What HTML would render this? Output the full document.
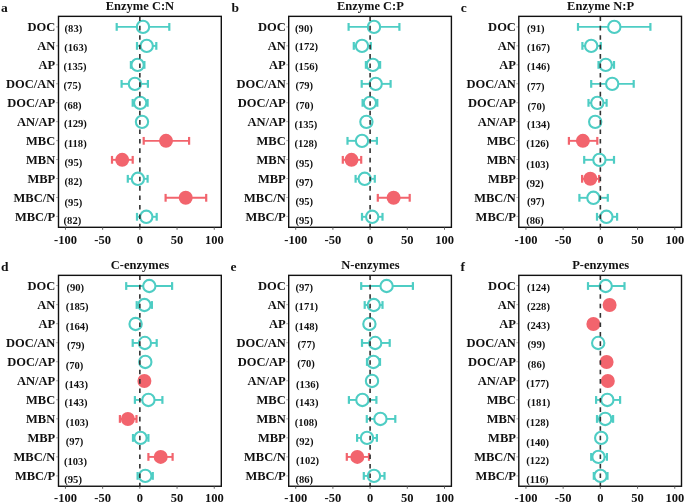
<!DOCTYPE html>
<html><head><meta charset="utf-8"><style>
html,body{margin:0;padding:0;background:#fff;}
body{width:685px;height:504px;overflow:hidden;}
svg{display:block;will-change:transform;}
text{font-family:"Liberation Serif", serif;font-weight:bold;fill:#111;}
.lt{font-size:13.5px;}
.tt{font-size:12.5px;}
.lb{font-size:12.5px;}
.nm{font-size:10.6px;}
.tk{font-size:12.5px;}
.ytk{stroke:#999;stroke-width:0.8;}
.xtk{stroke:#555;stroke-width:0.9;}
.dz{stroke:#333;stroke-width:1.6;stroke-dasharray:4.6 4.83;}
.bx{fill:none;stroke:#111;stroke-width:1.4;}
</style></head><body>
<svg width="685" height="504" viewBox="0 0 685 504">
<text x="0.9" y="12" class="lt">a</text>
<text x="139.9" y="9.7" class="tt" text-anchor="middle">Enzyme C:N</text>
<text x="55.2" y="31.4" class="lb" text-anchor="end">DOC</text>
<line x1="56" x2="58.5" y1="26.9" y2="26.9" class="ytk"/>
<text x="55.2" y="50.35" class="lb" text-anchor="end">AN</text>
<line x1="56" x2="58.5" y1="45.85" y2="45.85" class="ytk"/>
<text x="55.2" y="69.3" class="lb" text-anchor="end">AP</text>
<line x1="56" x2="58.5" y1="64.8" y2="64.8" class="ytk"/>
<text x="55.2" y="88.25" class="lb" text-anchor="end">DOC/AN</text>
<line x1="56" x2="58.5" y1="83.75" y2="83.75" class="ytk"/>
<text x="55.2" y="107.2" class="lb" text-anchor="end">DOC/AP</text>
<line x1="56" x2="58.5" y1="102.7" y2="102.7" class="ytk"/>
<text x="55.2" y="126.15" class="lb" text-anchor="end">AN/AP</text>
<line x1="56" x2="58.5" y1="121.65" y2="121.65" class="ytk"/>
<text x="55.2" y="145.1" class="lb" text-anchor="end">MBC</text>
<line x1="56" x2="58.5" y1="140.6" y2="140.6" class="ytk"/>
<text x="55.2" y="164.05" class="lb" text-anchor="end">MBN</text>
<line x1="56" x2="58.5" y1="159.55" y2="159.55" class="ytk"/>
<text x="55.2" y="183" class="lb" text-anchor="end">MBP</text>
<line x1="56" x2="58.5" y1="178.5" y2="178.5" class="ytk"/>
<text x="55.2" y="201.95" class="lb" text-anchor="end">MBC/N</text>
<line x1="56" x2="58.5" y1="197.45" y2="197.45" class="ytk"/>
<text x="55.2" y="220.9" class="lb" text-anchor="end">MBC/P</text>
<line x1="56" x2="58.5" y1="216.4" y2="216.4" class="ytk"/>
<text x="64.6" y="32.4" class="nm">(83)</text>
<text x="64.3" y="51.45" class="nm">(163)</text>
<text x="63.6" y="70.4" class="nm">(135)</text>
<text x="63.6" y="89.25" class="nm">(75)</text>
<text x="63.9" y="108.9" class="nm">(68)</text>
<text x="63.9" y="127.35" class="nm">(129)</text>
<text x="64.3" y="146.9" class="nm">(118)</text>
<text x="64.6" y="165.55" class="nm">(95)</text>
<text x="64.6" y="185.2" class="nm">(82)</text>
<text x="64.6" y="205.65" class="nm">(95)</text>
<text x="63.6" y="224.1" class="nm">(82)</text>
<line x1="116.7" x2="169.3" y1="26.9" y2="26.9" stroke="#4ecdc4" stroke-width="1.9"/>
<line x1="116.7" x2="116.7" y1="23" y2="30.8" stroke="#4ecdc4" stroke-width="2.2"/>
<line x1="169.3" x2="169.3" y1="23" y2="30.8" stroke="#4ecdc4" stroke-width="2.2"/>
<circle cx="143" cy="26.9" r="6.15" fill="#fff" stroke="#4ecdc4" stroke-width="2.1"/>
<line x1="137" x2="156.3" y1="45.89" y2="45.89" stroke="#4ecdc4" stroke-width="1.9"/>
<line x1="137" x2="137" y1="41.99" y2="49.79" stroke="#4ecdc4" stroke-width="2.2"/>
<line x1="156.3" x2="156.3" y1="41.99" y2="49.79" stroke="#4ecdc4" stroke-width="2.2"/>
<circle cx="146.7" cy="45.89" r="6.15" fill="#fff" stroke="#4ecdc4" stroke-width="2.1"/>
<line x1="130.9" x2="144.4" y1="64.88" y2="64.88" stroke="#4ecdc4" stroke-width="1.9"/>
<line x1="130.9" x2="130.9" y1="60.98" y2="68.78" stroke="#4ecdc4" stroke-width="2.2"/>
<line x1="144.4" x2="144.4" y1="60.98" y2="68.78" stroke="#4ecdc4" stroke-width="2.2"/>
<circle cx="137.6" cy="64.88" r="6.15" fill="#fff" stroke="#4ecdc4" stroke-width="2.1"/>
<line x1="121.6" x2="147.9" y1="83.87" y2="83.87" stroke="#4ecdc4" stroke-width="1.9"/>
<line x1="121.6" x2="121.6" y1="79.97" y2="87.77" stroke="#4ecdc4" stroke-width="2.2"/>
<line x1="147.9" x2="147.9" y1="79.97" y2="87.77" stroke="#4ecdc4" stroke-width="2.2"/>
<circle cx="134.9" cy="83.87" r="6.15" fill="#fff" stroke="#4ecdc4" stroke-width="2.1"/>
<line x1="132.7" x2="147.6" y1="102.86" y2="102.86" stroke="#4ecdc4" stroke-width="1.9"/>
<line x1="132.7" x2="132.7" y1="98.96" y2="106.76" stroke="#4ecdc4" stroke-width="2.2"/>
<line x1="147.6" x2="147.6" y1="98.96" y2="106.76" stroke="#4ecdc4" stroke-width="2.2"/>
<circle cx="140.2" cy="102.86" r="6.15" fill="#fff" stroke="#4ecdc4" stroke-width="2.1"/>
<circle cx="142" cy="121.85" r="6.15" fill="#fff" stroke="#4ecdc4" stroke-width="2.1"/>
<line x1="143.7" x2="189.1" y1="140.84" y2="140.84" stroke="#f2646d" stroke-width="1.9"/>
<line x1="143.7" x2="143.7" y1="136.94" y2="144.74" stroke="#f2646d" stroke-width="2.2"/>
<line x1="189.1" x2="189.1" y1="136.94" y2="144.74" stroke="#f2646d" stroke-width="2.2"/>
<circle cx="166" cy="140.84" r="7" fill="#f2646d"/>
<line x1="112" x2="132.7" y1="159.83" y2="159.83" stroke="#f2646d" stroke-width="1.9"/>
<line x1="112" x2="112" y1="155.93" y2="163.73" stroke="#f2646d" stroke-width="2.2"/>
<line x1="132.7" x2="132.7" y1="155.93" y2="163.73" stroke="#f2646d" stroke-width="2.2"/>
<circle cx="122.2" cy="159.83" r="7" fill="#f2646d"/>
<line x1="127.8" x2="147.6" y1="178.82" y2="178.82" stroke="#4ecdc4" stroke-width="1.9"/>
<line x1="127.8" x2="127.8" y1="174.92" y2="182.72" stroke="#4ecdc4" stroke-width="2.2"/>
<line x1="147.6" x2="147.6" y1="174.92" y2="182.72" stroke="#4ecdc4" stroke-width="2.2"/>
<circle cx="137.9" cy="178.82" r="6.15" fill="#fff" stroke="#4ecdc4" stroke-width="2.1"/>
<line x1="165.6" x2="206.2" y1="197.81" y2="197.81" stroke="#f2646d" stroke-width="1.9"/>
<line x1="165.6" x2="165.6" y1="193.91" y2="201.71" stroke="#f2646d" stroke-width="2.2"/>
<line x1="206.2" x2="206.2" y1="193.91" y2="201.71" stroke="#f2646d" stroke-width="2.2"/>
<circle cx="185.7" cy="197.81" r="7" fill="#f2646d"/>
<line x1="137" x2="156.7" y1="216.8" y2="216.8" stroke="#4ecdc4" stroke-width="1.9"/>
<line x1="137" x2="137" y1="212.9" y2="220.7" stroke="#4ecdc4" stroke-width="2.2"/>
<line x1="156.7" x2="156.7" y1="212.9" y2="220.7" stroke="#4ecdc4" stroke-width="2.2"/>
<circle cx="146.3" cy="216.8" r="6.15" fill="#fff" stroke="#4ecdc4" stroke-width="2.1"/>
<line x1="139.85" x2="139.85" y1="16.35" y2="227.3" class="dz"/>
<rect x="58.5" y="16.35" width="162.8" height="210.95" class="bx"/>
<line x1="65.45" x2="65.45" y1="227.3" y2="229.8" class="xtk"/>
<text x="65.45" y="243.8" class="tk" text-anchor="middle">-100</text>
<line x1="102.65" x2="102.65" y1="227.3" y2="229.8" class="xtk"/>
<text x="102.65" y="243.8" class="tk" text-anchor="middle">-50</text>
<line x1="139.85" x2="139.85" y1="227.3" y2="229.8" class="xtk"/>
<text x="139.85" y="243.8" class="tk" text-anchor="middle">0</text>
<line x1="177.05" x2="177.05" y1="227.3" y2="229.8" class="xtk"/>
<text x="177.05" y="243.8" class="tk" text-anchor="middle">50</text>
<line x1="214.25" x2="214.25" y1="227.3" y2="229.8" class="xtk"/>
<text x="214.25" y="243.8" class="tk" text-anchor="middle">100</text>
<text x="231.4" y="12" class="lt">b</text>
<text x="370.4" y="9.7" class="tt" text-anchor="middle">Enzyme C:P</text>
<text x="285.7" y="31.4" class="lb" text-anchor="end">DOC</text>
<line x1="286.2" x2="288.7" y1="26.9" y2="26.9" class="ytk"/>
<text x="285.7" y="50.35" class="lb" text-anchor="end">AN</text>
<line x1="286.2" x2="288.7" y1="45.85" y2="45.85" class="ytk"/>
<text x="285.7" y="69.3" class="lb" text-anchor="end">AP</text>
<line x1="286.2" x2="288.7" y1="64.8" y2="64.8" class="ytk"/>
<text x="285.7" y="88.25" class="lb" text-anchor="end">DOC/AN</text>
<line x1="286.2" x2="288.7" y1="83.75" y2="83.75" class="ytk"/>
<text x="285.7" y="107.2" class="lb" text-anchor="end">DOC/AP</text>
<line x1="286.2" x2="288.7" y1="102.7" y2="102.7" class="ytk"/>
<text x="285.7" y="126.15" class="lb" text-anchor="end">AN/AP</text>
<line x1="286.2" x2="288.7" y1="121.65" y2="121.65" class="ytk"/>
<text x="285.7" y="145.1" class="lb" text-anchor="end">MBC</text>
<line x1="286.2" x2="288.7" y1="140.6" y2="140.6" class="ytk"/>
<text x="285.7" y="164.05" class="lb" text-anchor="end">MBN</text>
<line x1="286.2" x2="288.7" y1="159.55" y2="159.55" class="ytk"/>
<text x="285.7" y="183" class="lb" text-anchor="end">MBP</text>
<line x1="286.2" x2="288.7" y1="178.5" y2="178.5" class="ytk"/>
<text x="285.7" y="201.95" class="lb" text-anchor="end">MBC/N</text>
<line x1="286.2" x2="288.7" y1="197.45" y2="197.45" class="ytk"/>
<text x="285.7" y="220.9" class="lb" text-anchor="end">MBC/P</text>
<line x1="286.2" x2="288.7" y1="216.4" y2="216.4" class="ytk"/>
<text x="295.1" y="31.9" class="nm">(90)</text>
<text x="295.1" y="50.45" class="nm">(172)</text>
<text x="295.1" y="70.1" class="nm">(156)</text>
<text x="295.5" y="89.05" class="nm">(79)</text>
<text x="295.8" y="108.7" class="nm">(70)</text>
<text x="294.4" y="127.75" class="nm">(135)</text>
<text x="294.4" y="146.8" class="nm">(128)</text>
<text x="295.5" y="166.75" class="nm">(95)</text>
<text x="295.5" y="185.5" class="nm">(97)</text>
<text x="295.5" y="204.65" class="nm">(95)</text>
<text x="295.5" y="224" class="nm">(95)</text>
<line x1="348.6" x2="399.4" y1="26.9" y2="26.9" stroke="#4ecdc4" stroke-width="1.9"/>
<line x1="348.6" x2="348.6" y1="23" y2="30.8" stroke="#4ecdc4" stroke-width="2.2"/>
<line x1="399.4" x2="399.4" y1="23" y2="30.8" stroke="#4ecdc4" stroke-width="2.2"/>
<circle cx="374" cy="26.9" r="6.15" fill="#fff" stroke="#4ecdc4" stroke-width="2.1"/>
<line x1="353.8" x2="370.8" y1="45.89" y2="45.89" stroke="#4ecdc4" stroke-width="1.9"/>
<line x1="353.8" x2="353.8" y1="41.99" y2="49.79" stroke="#4ecdc4" stroke-width="2.2"/>
<line x1="370.8" x2="370.8" y1="41.99" y2="49.79" stroke="#4ecdc4" stroke-width="2.2"/>
<circle cx="362" cy="45.89" r="6.15" fill="#fff" stroke="#4ecdc4" stroke-width="2.1"/>
<line x1="365.9" x2="380.1" y1="64.88" y2="64.88" stroke="#4ecdc4" stroke-width="1.9"/>
<line x1="365.9" x2="365.9" y1="60.98" y2="68.78" stroke="#4ecdc4" stroke-width="2.2"/>
<line x1="380.1" x2="380.1" y1="60.98" y2="68.78" stroke="#4ecdc4" stroke-width="2.2"/>
<circle cx="372.9" cy="64.88" r="6.15" fill="#fff" stroke="#4ecdc4" stroke-width="2.1"/>
<line x1="361.7" x2="390.6" y1="83.87" y2="83.87" stroke="#4ecdc4" stroke-width="1.9"/>
<line x1="361.7" x2="361.7" y1="79.97" y2="87.77" stroke="#4ecdc4" stroke-width="2.2"/>
<line x1="390.6" x2="390.6" y1="79.97" y2="87.77" stroke="#4ecdc4" stroke-width="2.2"/>
<circle cx="375.7" cy="83.87" r="6.15" fill="#fff" stroke="#4ecdc4" stroke-width="2.1"/>
<line x1="362.6" x2="377.3" y1="102.86" y2="102.86" stroke="#4ecdc4" stroke-width="1.9"/>
<line x1="362.6" x2="362.6" y1="98.96" y2="106.76" stroke="#4ecdc4" stroke-width="2.2"/>
<line x1="377.3" x2="377.3" y1="98.96" y2="106.76" stroke="#4ecdc4" stroke-width="2.2"/>
<circle cx="369.9" cy="102.86" r="6.15" fill="#fff" stroke="#4ecdc4" stroke-width="2.1"/>
<circle cx="366.4" cy="121.85" r="6.15" fill="#fff" stroke="#4ecdc4" stroke-width="2.1"/>
<line x1="347.5" x2="376.9" y1="140.84" y2="140.84" stroke="#4ecdc4" stroke-width="1.9"/>
<line x1="347.5" x2="347.5" y1="136.94" y2="144.74" stroke="#4ecdc4" stroke-width="2.2"/>
<line x1="376.9" x2="376.9" y1="136.94" y2="144.74" stroke="#4ecdc4" stroke-width="2.2"/>
<circle cx="362" cy="140.84" r="6.15" fill="#fff" stroke="#4ecdc4" stroke-width="2.1"/>
<line x1="342.8" x2="361.2" y1="159.83" y2="159.83" stroke="#f2646d" stroke-width="1.9"/>
<line x1="342.8" x2="342.8" y1="155.93" y2="163.73" stroke="#f2646d" stroke-width="2.2"/>
<line x1="361.2" x2="361.2" y1="155.93" y2="163.73" stroke="#f2646d" stroke-width="2.2"/>
<circle cx="351.5" cy="159.83" r="7" fill="#f2646d"/>
<line x1="355.6" x2="374.8" y1="178.82" y2="178.82" stroke="#4ecdc4" stroke-width="1.9"/>
<line x1="355.6" x2="355.6" y1="174.92" y2="182.72" stroke="#4ecdc4" stroke-width="2.2"/>
<line x1="374.8" x2="374.8" y1="174.92" y2="182.72" stroke="#4ecdc4" stroke-width="2.2"/>
<circle cx="364.7" cy="178.82" r="6.15" fill="#fff" stroke="#4ecdc4" stroke-width="2.1"/>
<line x1="377.8" x2="409.7" y1="197.81" y2="197.81" stroke="#f2646d" stroke-width="1.9"/>
<line x1="377.8" x2="377.8" y1="193.91" y2="201.71" stroke="#f2646d" stroke-width="2.2"/>
<line x1="409.7" x2="409.7" y1="193.91" y2="201.71" stroke="#f2646d" stroke-width="2.2"/>
<circle cx="393.6" cy="197.81" r="7" fill="#f2646d"/>
<line x1="362" x2="382.5" y1="216.8" y2="216.8" stroke="#4ecdc4" stroke-width="1.9"/>
<line x1="362" x2="362" y1="212.9" y2="220.7" stroke="#4ecdc4" stroke-width="2.2"/>
<line x1="382.5" x2="382.5" y1="212.9" y2="220.7" stroke="#4ecdc4" stroke-width="2.2"/>
<circle cx="372.2" cy="216.8" r="6.15" fill="#fff" stroke="#4ecdc4" stroke-width="2.1"/>
<line x1="370.1" x2="370.1" y1="16.35" y2="227.3" class="dz"/>
<rect x="288.7" y="16.35" width="162.7" height="210.95" class="bx"/>
<line x1="295.7" x2="295.7" y1="227.3" y2="229.8" class="xtk"/>
<text x="295.7" y="243.8" class="tk" text-anchor="middle">-100</text>
<line x1="332.9" x2="332.9" y1="227.3" y2="229.8" class="xtk"/>
<text x="332.9" y="243.8" class="tk" text-anchor="middle">-50</text>
<line x1="370.1" x2="370.1" y1="227.3" y2="229.8" class="xtk"/>
<text x="370.1" y="243.8" class="tk" text-anchor="middle">0</text>
<line x1="407.3" x2="407.3" y1="227.3" y2="229.8" class="xtk"/>
<text x="407.3" y="243.8" class="tk" text-anchor="middle">50</text>
<line x1="444.5" x2="444.5" y1="227.3" y2="229.8" class="xtk"/>
<text x="444.5" y="243.8" class="tk" text-anchor="middle">100</text>
<text x="460.7" y="12" class="lt">c</text>
<text x="600.6" y="9.7" class="tt" text-anchor="middle">Enzyme N:P</text>
<text x="515.9" y="31.4" class="lb" text-anchor="end">DOC</text>
<line x1="516.3" x2="518.8" y1="26.9" y2="26.9" class="ytk"/>
<text x="515.9" y="50.35" class="lb" text-anchor="end">AN</text>
<line x1="516.3" x2="518.8" y1="45.85" y2="45.85" class="ytk"/>
<text x="515.9" y="69.3" class="lb" text-anchor="end">AP</text>
<line x1="516.3" x2="518.8" y1="64.8" y2="64.8" class="ytk"/>
<text x="515.9" y="88.25" class="lb" text-anchor="end">DOC/AN</text>
<line x1="516.3" x2="518.8" y1="83.75" y2="83.75" class="ytk"/>
<text x="515.9" y="107.2" class="lb" text-anchor="end">DOC/AP</text>
<line x1="516.3" x2="518.8" y1="102.7" y2="102.7" class="ytk"/>
<text x="515.9" y="126.15" class="lb" text-anchor="end">AN/AP</text>
<line x1="516.3" x2="518.8" y1="121.65" y2="121.65" class="ytk"/>
<text x="515.9" y="145.1" class="lb" text-anchor="end">MBC</text>
<line x1="516.3" x2="518.8" y1="140.6" y2="140.6" class="ytk"/>
<text x="515.9" y="164.05" class="lb" text-anchor="end">MBN</text>
<line x1="516.3" x2="518.8" y1="159.55" y2="159.55" class="ytk"/>
<text x="515.9" y="183" class="lb" text-anchor="end">MBP</text>
<line x1="516.3" x2="518.8" y1="178.5" y2="178.5" class="ytk"/>
<text x="515.9" y="201.95" class="lb" text-anchor="end">MBC/N</text>
<line x1="516.3" x2="518.8" y1="197.45" y2="197.45" class="ytk"/>
<text x="515.9" y="220.9" class="lb" text-anchor="end">MBC/P</text>
<line x1="516.3" x2="518.8" y1="216.4" y2="216.4" class="ytk"/>
<text x="527" y="32.2" class="nm">(91)</text>
<text x="527" y="51.15" class="nm">(167)</text>
<text x="527" y="70.1" class="nm">(146)</text>
<text x="527" y="90.05" class="nm">(77)</text>
<text x="527.6" y="109.9" class="nm">(70)</text>
<text x="527" y="128.45" class="nm">(134)</text>
<text x="526.2" y="147.3" class="nm">(126)</text>
<text x="526.2" y="167.55" class="nm">(103)</text>
<text x="526.2" y="186.7" class="nm">(92)</text>
<text x="527" y="205.45" class="nm">(97)</text>
<text x="526.2" y="224.1" class="nm">(86)</text>
<line x1="578" x2="650.4" y1="26.9" y2="26.9" stroke="#4ecdc4" stroke-width="1.9"/>
<line x1="578" x2="578" y1="23" y2="30.8" stroke="#4ecdc4" stroke-width="2.2"/>
<line x1="650.4" x2="650.4" y1="23" y2="30.8" stroke="#4ecdc4" stroke-width="2.2"/>
<circle cx="614.3" cy="26.9" r="6.15" fill="#fff" stroke="#4ecdc4" stroke-width="2.1"/>
<line x1="582.4" x2="600.8" y1="45.89" y2="45.89" stroke="#4ecdc4" stroke-width="1.9"/>
<line x1="582.4" x2="582.4" y1="41.99" y2="49.79" stroke="#4ecdc4" stroke-width="2.2"/>
<line x1="600.8" x2="600.8" y1="41.99" y2="49.79" stroke="#4ecdc4" stroke-width="2.2"/>
<circle cx="591.2" cy="45.89" r="6.15" fill="#fff" stroke="#4ecdc4" stroke-width="2.1"/>
<line x1="598.5" x2="614" y1="64.88" y2="64.88" stroke="#4ecdc4" stroke-width="1.9"/>
<line x1="598.5" x2="598.5" y1="60.98" y2="68.78" stroke="#4ecdc4" stroke-width="2.2"/>
<line x1="614" x2="614" y1="60.98" y2="68.78" stroke="#4ecdc4" stroke-width="2.2"/>
<circle cx="605.7" cy="64.88" r="6.15" fill="#fff" stroke="#4ecdc4" stroke-width="2.1"/>
<line x1="591.2" x2="633.7" y1="83.87" y2="83.87" stroke="#4ecdc4" stroke-width="1.9"/>
<line x1="591.2" x2="591.2" y1="79.97" y2="87.77" stroke="#4ecdc4" stroke-width="2.2"/>
<line x1="633.7" x2="633.7" y1="79.97" y2="87.77" stroke="#4ecdc4" stroke-width="2.2"/>
<circle cx="612.2" cy="83.87" r="6.15" fill="#fff" stroke="#4ecdc4" stroke-width="2.1"/>
<line x1="588.5" x2="606.6" y1="102.86" y2="102.86" stroke="#4ecdc4" stroke-width="1.9"/>
<line x1="588.5" x2="588.5" y1="98.96" y2="106.76" stroke="#4ecdc4" stroke-width="2.2"/>
<line x1="606.6" x2="606.6" y1="98.96" y2="106.76" stroke="#4ecdc4" stroke-width="2.2"/>
<circle cx="597.3" cy="102.86" r="6.15" fill="#fff" stroke="#4ecdc4" stroke-width="2.1"/>
<circle cx="595.2" cy="121.85" r="6.15" fill="#fff" stroke="#4ecdc4" stroke-width="2.1"/>
<line x1="568.9" x2="597.3" y1="140.84" y2="140.84" stroke="#f2646d" stroke-width="1.9"/>
<line x1="568.9" x2="568.9" y1="136.94" y2="144.74" stroke="#f2646d" stroke-width="2.2"/>
<line x1="597.3" x2="597.3" y1="136.94" y2="144.74" stroke="#f2646d" stroke-width="2.2"/>
<circle cx="582.9" cy="140.84" r="7" fill="#f2646d"/>
<line x1="584.2" x2="614" y1="159.83" y2="159.83" stroke="#4ecdc4" stroke-width="1.9"/>
<line x1="584.2" x2="584.2" y1="155.93" y2="163.73" stroke="#4ecdc4" stroke-width="2.2"/>
<line x1="614" x2="614" y1="155.93" y2="163.73" stroke="#4ecdc4" stroke-width="2.2"/>
<circle cx="599.4" cy="159.83" r="6.15" fill="#fff" stroke="#4ecdc4" stroke-width="2.1"/>
<line x1="582.1" x2="599.1" y1="178.82" y2="178.82" stroke="#f2646d" stroke-width="1.9"/>
<line x1="582.1" x2="582.1" y1="174.92" y2="182.72" stroke="#f2646d" stroke-width="2.2"/>
<line x1="599.1" x2="599.1" y1="174.92" y2="182.72" stroke="#f2646d" stroke-width="2.2"/>
<circle cx="590.3" cy="178.82" r="7" fill="#f2646d"/>
<line x1="579.4" x2="607.8" y1="197.81" y2="197.81" stroke="#4ecdc4" stroke-width="1.9"/>
<line x1="579.4" x2="579.4" y1="193.91" y2="201.71" stroke="#4ecdc4" stroke-width="2.2"/>
<line x1="607.8" x2="607.8" y1="193.91" y2="201.71" stroke="#4ecdc4" stroke-width="2.2"/>
<circle cx="593.4" cy="197.81" r="6.15" fill="#fff" stroke="#4ecdc4" stroke-width="2.1"/>
<line x1="597" x2="617.1" y1="216.8" y2="216.8" stroke="#4ecdc4" stroke-width="1.9"/>
<line x1="597" x2="597" y1="212.9" y2="220.7" stroke="#4ecdc4" stroke-width="2.2"/>
<line x1="617.1" x2="617.1" y1="212.9" y2="220.7" stroke="#4ecdc4" stroke-width="2.2"/>
<circle cx="606.4" cy="216.8" r="6.15" fill="#fff" stroke="#4ecdc4" stroke-width="2.1"/>
<line x1="600.35" x2="600.35" y1="16.35" y2="227.3" class="dz"/>
<rect x="518.8" y="16.35" width="162.7" height="210.95" class="bx"/>
<line x1="525.95" x2="525.95" y1="227.3" y2="229.8" class="xtk"/>
<text x="525.95" y="243.8" class="tk" text-anchor="middle">-100</text>
<line x1="563.15" x2="563.15" y1="227.3" y2="229.8" class="xtk"/>
<text x="563.15" y="243.8" class="tk" text-anchor="middle">-50</text>
<line x1="600.35" x2="600.35" y1="227.3" y2="229.8" class="xtk"/>
<text x="600.35" y="243.8" class="tk" text-anchor="middle">0</text>
<line x1="637.55" x2="637.55" y1="227.3" y2="229.8" class="xtk"/>
<text x="637.55" y="243.8" class="tk" text-anchor="middle">50</text>
<line x1="674.75" x2="674.75" y1="227.3" y2="229.8" class="xtk"/>
<text x="674.75" y="243.8" class="tk" text-anchor="middle">100</text>
<text x="0.9" y="271.4" class="lt">d</text>
<text x="139.9" y="269.1" class="tt" text-anchor="middle">C-enzymes</text>
<text x="55.2" y="290.1" class="lb" text-anchor="end">DOC</text>
<line x1="56" x2="58.5" y1="285.6" y2="285.6" class="ytk"/>
<text x="55.2" y="309.13" class="lb" text-anchor="end">AN</text>
<line x1="56" x2="58.5" y1="304.63" y2="304.63" class="ytk"/>
<text x="55.2" y="328.16" class="lb" text-anchor="end">AP</text>
<line x1="56" x2="58.5" y1="323.66" y2="323.66" class="ytk"/>
<text x="55.2" y="347.19" class="lb" text-anchor="end">DOC/AN</text>
<line x1="56" x2="58.5" y1="342.69" y2="342.69" class="ytk"/>
<text x="55.2" y="366.22" class="lb" text-anchor="end">DOC/AP</text>
<line x1="56" x2="58.5" y1="361.72" y2="361.72" class="ytk"/>
<text x="55.2" y="385.25" class="lb" text-anchor="end">AN/AP</text>
<line x1="56" x2="58.5" y1="380.75" y2="380.75" class="ytk"/>
<text x="55.2" y="404.28" class="lb" text-anchor="end">MBC</text>
<line x1="56" x2="58.5" y1="399.78" y2="399.78" class="ytk"/>
<text x="55.2" y="423.31" class="lb" text-anchor="end">MBN</text>
<line x1="56" x2="58.5" y1="418.81" y2="418.81" class="ytk"/>
<text x="55.2" y="442.34" class="lb" text-anchor="end">MBP</text>
<line x1="56" x2="58.5" y1="437.84" y2="437.84" class="ytk"/>
<text x="55.2" y="461.37" class="lb" text-anchor="end">MBC/N</text>
<line x1="56" x2="58.5" y1="456.87" y2="456.87" class="ytk"/>
<text x="55.2" y="480.4" class="lb" text-anchor="end">MBC/P</text>
<line x1="56" x2="58.5" y1="475.9" y2="475.9" class="ytk"/>
<text x="66.5" y="290.6" class="nm">(90)</text>
<text x="65.7" y="309.93" class="nm">(185)</text>
<text x="65.7" y="330.16" class="nm">(164)</text>
<text x="66.9" y="348.99" class="nm">(79)</text>
<text x="65.7" y="368.92" class="nm">(70)</text>
<text x="65" y="387.55" class="nm">(143)</text>
<text x="64.6" y="406.18" class="nm">(143)</text>
<text x="65.7" y="425.71" class="nm">(103)</text>
<text x="65.7" y="445.34" class="nm">(97)</text>
<text x="64" y="464.67" class="nm">(103)</text>
<text x="64.3" y="483.3" class="nm">(95)</text>
<line x1="126.2" x2="172.1" y1="286" y2="286" stroke="#4ecdc4" stroke-width="1.9"/>
<line x1="126.2" x2="126.2" y1="282.1" y2="289.9" stroke="#4ecdc4" stroke-width="2.2"/>
<line x1="172.1" x2="172.1" y1="282.1" y2="289.9" stroke="#4ecdc4" stroke-width="2.2"/>
<circle cx="149.3" cy="286" r="6.15" fill="#fff" stroke="#4ecdc4" stroke-width="2.1"/>
<line x1="136.7" x2="151.9" y1="304.99" y2="304.99" stroke="#4ecdc4" stroke-width="1.9"/>
<line x1="136.7" x2="136.7" y1="301.09" y2="308.89" stroke="#4ecdc4" stroke-width="2.2"/>
<line x1="151.9" x2="151.9" y1="301.09" y2="308.89" stroke="#4ecdc4" stroke-width="2.2"/>
<circle cx="144.4" cy="304.99" r="6.15" fill="#fff" stroke="#4ecdc4" stroke-width="2.1"/>
<circle cx="135.6" cy="323.98" r="6.15" fill="#fff" stroke="#4ecdc4" stroke-width="2.1"/>
<line x1="132.7" x2="156.7" y1="342.97" y2="342.97" stroke="#4ecdc4" stroke-width="1.9"/>
<line x1="132.7" x2="132.7" y1="339.07" y2="346.87" stroke="#4ecdc4" stroke-width="2.2"/>
<line x1="156.7" x2="156.7" y1="339.07" y2="346.87" stroke="#4ecdc4" stroke-width="2.2"/>
<circle cx="144.9" cy="342.97" r="6.15" fill="#fff" stroke="#4ecdc4" stroke-width="2.1"/>
<circle cx="145.3" cy="361.96" r="6.15" fill="#fff" stroke="#4ecdc4" stroke-width="2.1"/>
<circle cx="144.4" cy="380.95" r="7" fill="#f2646d"/>
<line x1="134.9" x2="162.4" y1="399.94" y2="399.94" stroke="#4ecdc4" stroke-width="1.9"/>
<line x1="134.9" x2="134.9" y1="396.04" y2="403.84" stroke="#4ecdc4" stroke-width="2.2"/>
<line x1="162.4" x2="162.4" y1="396.04" y2="403.84" stroke="#4ecdc4" stroke-width="2.2"/>
<circle cx="148.4" cy="399.94" r="6.15" fill="#fff" stroke="#4ecdc4" stroke-width="2.1"/>
<line x1="119.9" x2="136.5" y1="418.93" y2="418.93" stroke="#f2646d" stroke-width="1.9"/>
<line x1="119.9" x2="119.9" y1="415.03" y2="422.83" stroke="#f2646d" stroke-width="2.2"/>
<line x1="136.5" x2="136.5" y1="415.03" y2="422.83" stroke="#f2646d" stroke-width="2.2"/>
<circle cx="127.9" cy="418.93" r="7" fill="#f2646d"/>
<line x1="133" x2="148.4" y1="437.92" y2="437.92" stroke="#4ecdc4" stroke-width="1.9"/>
<line x1="133" x2="133" y1="434.02" y2="441.82" stroke="#4ecdc4" stroke-width="2.2"/>
<line x1="148.4" x2="148.4" y1="434.02" y2="441.82" stroke="#4ecdc4" stroke-width="2.2"/>
<circle cx="140.5" cy="437.92" r="6.15" fill="#fff" stroke="#4ecdc4" stroke-width="2.1"/>
<line x1="148.4" x2="172.6" y1="456.91" y2="456.91" stroke="#f2646d" stroke-width="1.9"/>
<line x1="148.4" x2="148.4" y1="453.01" y2="460.81" stroke="#f2646d" stroke-width="2.2"/>
<line x1="172.6" x2="172.6" y1="453.01" y2="460.81" stroke="#f2646d" stroke-width="2.2"/>
<circle cx="160.7" cy="456.91" r="7" fill="#f2646d"/>
<line x1="137.6" x2="152.8" y1="475.9" y2="475.9" stroke="#4ecdc4" stroke-width="1.9"/>
<line x1="137.6" x2="137.6" y1="472" y2="479.8" stroke="#4ecdc4" stroke-width="2.2"/>
<line x1="152.8" x2="152.8" y1="472" y2="479.8" stroke="#4ecdc4" stroke-width="2.2"/>
<circle cx="145.3" cy="475.9" r="6.15" fill="#fff" stroke="#4ecdc4" stroke-width="2.1"/>
<line x1="139.85" x2="139.85" y1="275.35" y2="486.25" class="dz"/>
<rect x="58.5" y="275.35" width="162.8" height="210.9" class="bx"/>
<line x1="65.45" x2="65.45" y1="486.25" y2="488.75" class="xtk"/>
<text x="65.45" y="502.3" class="tk" text-anchor="middle">-100</text>
<line x1="102.65" x2="102.65" y1="486.25" y2="488.75" class="xtk"/>
<text x="102.65" y="502.3" class="tk" text-anchor="middle">-50</text>
<line x1="139.85" x2="139.85" y1="486.25" y2="488.75" class="xtk"/>
<text x="139.85" y="502.3" class="tk" text-anchor="middle">0</text>
<line x1="177.05" x2="177.05" y1="486.25" y2="488.75" class="xtk"/>
<text x="177.05" y="502.3" class="tk" text-anchor="middle">50</text>
<line x1="214.25" x2="214.25" y1="486.25" y2="488.75" class="xtk"/>
<text x="214.25" y="502.3" class="tk" text-anchor="middle">100</text>
<text x="230.4" y="271.4" class="lt">e</text>
<text x="370.4" y="269.1" class="tt" text-anchor="middle">N-enzymes</text>
<text x="285.7" y="290.1" class="lb" text-anchor="end">DOC</text>
<line x1="286.2" x2="288.7" y1="285.6" y2="285.6" class="ytk"/>
<text x="285.7" y="309.13" class="lb" text-anchor="end">AN</text>
<line x1="286.2" x2="288.7" y1="304.63" y2="304.63" class="ytk"/>
<text x="285.7" y="328.16" class="lb" text-anchor="end">AP</text>
<line x1="286.2" x2="288.7" y1="323.66" y2="323.66" class="ytk"/>
<text x="285.7" y="347.19" class="lb" text-anchor="end">DOC/AN</text>
<line x1="286.2" x2="288.7" y1="342.69" y2="342.69" class="ytk"/>
<text x="285.7" y="366.22" class="lb" text-anchor="end">DOC/AP</text>
<line x1="286.2" x2="288.7" y1="361.72" y2="361.72" class="ytk"/>
<text x="285.7" y="385.25" class="lb" text-anchor="end">AN/AP</text>
<line x1="286.2" x2="288.7" y1="380.75" y2="380.75" class="ytk"/>
<text x="285.7" y="404.28" class="lb" text-anchor="end">MBC</text>
<line x1="286.2" x2="288.7" y1="399.78" y2="399.78" class="ytk"/>
<text x="285.7" y="423.31" class="lb" text-anchor="end">MBN</text>
<line x1="286.2" x2="288.7" y1="418.81" y2="418.81" class="ytk"/>
<text x="285.7" y="442.34" class="lb" text-anchor="end">MBP</text>
<line x1="286.2" x2="288.7" y1="437.84" y2="437.84" class="ytk"/>
<text x="285.7" y="461.37" class="lb" text-anchor="end">MBC/N</text>
<line x1="286.2" x2="288.7" y1="456.87" y2="456.87" class="ytk"/>
<text x="285.7" y="480.4" class="lb" text-anchor="end">MBC/P</text>
<line x1="286.2" x2="288.7" y1="475.9" y2="475.9" class="ytk"/>
<text x="295.5" y="290.7" class="nm">(97)</text>
<text x="295.1" y="309.93" class="nm">(171)</text>
<text x="295.1" y="329.56" class="nm">(148)</text>
<text x="297.6" y="348.49" class="nm">(77)</text>
<text x="297.2" y="367.42" class="nm">(70)</text>
<text x="296.1" y="387.55" class="nm">(136)</text>
<text x="295.5" y="406.38" class="nm">(143)</text>
<text x="294.7" y="426.01" class="nm">(108)</text>
<text x="295.8" y="445.34" class="nm">(92)</text>
<text x="296.1" y="464.47" class="nm">(102)</text>
<text x="295.5" y="483.2" class="nm">(86)</text>
<line x1="361.2" x2="412.9" y1="286" y2="286" stroke="#4ecdc4" stroke-width="1.9"/>
<line x1="361.2" x2="361.2" y1="282.1" y2="289.9" stroke="#4ecdc4" stroke-width="2.2"/>
<line x1="412.9" x2="412.9" y1="282.1" y2="289.9" stroke="#4ecdc4" stroke-width="2.2"/>
<circle cx="386.6" cy="286" r="6.15" fill="#fff" stroke="#4ecdc4" stroke-width="2.1"/>
<line x1="364.7" x2="382.5" y1="304.99" y2="304.99" stroke="#4ecdc4" stroke-width="1.9"/>
<line x1="364.7" x2="364.7" y1="301.09" y2="308.89" stroke="#4ecdc4" stroke-width="2.2"/>
<line x1="382.5" x2="382.5" y1="301.09" y2="308.89" stroke="#4ecdc4" stroke-width="2.2"/>
<circle cx="373.8" cy="304.99" r="6.15" fill="#fff" stroke="#4ecdc4" stroke-width="2.1"/>
<circle cx="369.4" cy="323.98" r="6.15" fill="#fff" stroke="#4ecdc4" stroke-width="2.1"/>
<line x1="362" x2="389.7" y1="342.97" y2="342.97" stroke="#4ecdc4" stroke-width="1.9"/>
<line x1="362" x2="362" y1="339.07" y2="346.87" stroke="#4ecdc4" stroke-width="2.2"/>
<line x1="389.7" x2="389.7" y1="339.07" y2="346.87" stroke="#4ecdc4" stroke-width="2.2"/>
<circle cx="375.2" cy="342.97" r="6.15" fill="#fff" stroke="#4ecdc4" stroke-width="2.1"/>
<line x1="367" x2="380" y1="361.96" y2="361.96" stroke="#4ecdc4" stroke-width="1.9"/>
<line x1="367" x2="367" y1="358.06" y2="365.86" stroke="#4ecdc4" stroke-width="2.2"/>
<line x1="380" x2="380" y1="358.06" y2="365.86" stroke="#4ecdc4" stroke-width="2.2"/>
<circle cx="373.4" cy="361.96" r="6.15" fill="#fff" stroke="#4ecdc4" stroke-width="2.1"/>
<circle cx="372" cy="380.95" r="6.15" fill="#fff" stroke="#4ecdc4" stroke-width="2.1"/>
<line x1="348.9" x2="376.4" y1="399.94" y2="399.94" stroke="#4ecdc4" stroke-width="1.9"/>
<line x1="348.9" x2="348.9" y1="396.04" y2="403.84" stroke="#4ecdc4" stroke-width="2.2"/>
<line x1="376.4" x2="376.4" y1="396.04" y2="403.84" stroke="#4ecdc4" stroke-width="2.2"/>
<circle cx="362.4" cy="399.94" r="6.15" fill="#fff" stroke="#4ecdc4" stroke-width="2.1"/>
<line x1="366.8" x2="395.3" y1="418.93" y2="418.93" stroke="#4ecdc4" stroke-width="1.9"/>
<line x1="366.8" x2="366.8" y1="415.03" y2="422.83" stroke="#4ecdc4" stroke-width="2.2"/>
<line x1="395.3" x2="395.3" y1="415.03" y2="422.83" stroke="#4ecdc4" stroke-width="2.2"/>
<circle cx="380.4" cy="418.93" r="6.15" fill="#fff" stroke="#4ecdc4" stroke-width="2.1"/>
<line x1="357.1" x2="376.9" y1="437.92" y2="437.92" stroke="#4ecdc4" stroke-width="1.9"/>
<line x1="357.1" x2="357.1" y1="434.02" y2="441.82" stroke="#4ecdc4" stroke-width="2.2"/>
<line x1="376.9" x2="376.9" y1="434.02" y2="441.82" stroke="#4ecdc4" stroke-width="2.2"/>
<circle cx="367" cy="437.92" r="6.15" fill="#fff" stroke="#4ecdc4" stroke-width="2.1"/>
<line x1="346.8" x2="369" y1="456.91" y2="456.91" stroke="#f2646d" stroke-width="1.9"/>
<line x1="346.8" x2="346.8" y1="453.01" y2="460.81" stroke="#f2646d" stroke-width="2.2"/>
<line x1="369" x2="369" y1="453.01" y2="460.81" stroke="#f2646d" stroke-width="2.2"/>
<circle cx="357.3" cy="456.91" r="7" fill="#f2646d"/>
<line x1="363.8" x2="384.5" y1="475.9" y2="475.9" stroke="#4ecdc4" stroke-width="1.9"/>
<line x1="363.8" x2="363.8" y1="472" y2="479.8" stroke="#4ecdc4" stroke-width="2.2"/>
<line x1="384.5" x2="384.5" y1="472" y2="479.8" stroke="#4ecdc4" stroke-width="2.2"/>
<circle cx="374" cy="475.9" r="6.15" fill="#fff" stroke="#4ecdc4" stroke-width="2.1"/>
<line x1="370.1" x2="370.1" y1="275.35" y2="486.25" class="dz"/>
<rect x="288.7" y="275.35" width="162.7" height="210.9" class="bx"/>
<line x1="295.7" x2="295.7" y1="486.25" y2="488.75" class="xtk"/>
<text x="295.7" y="502.3" class="tk" text-anchor="middle">-100</text>
<line x1="332.9" x2="332.9" y1="486.25" y2="488.75" class="xtk"/>
<text x="332.9" y="502.3" class="tk" text-anchor="middle">-50</text>
<line x1="370.1" x2="370.1" y1="486.25" y2="488.75" class="xtk"/>
<text x="370.1" y="502.3" class="tk" text-anchor="middle">0</text>
<line x1="407.3" x2="407.3" y1="486.25" y2="488.75" class="xtk"/>
<text x="407.3" y="502.3" class="tk" text-anchor="middle">50</text>
<line x1="444.5" x2="444.5" y1="486.25" y2="488.75" class="xtk"/>
<text x="444.5" y="502.3" class="tk" text-anchor="middle">100</text>
<text x="460.4" y="271.4" class="lt">f</text>
<text x="600.6" y="269.1" class="tt" text-anchor="middle">P-enzymes</text>
<text x="515.9" y="290.1" class="lb" text-anchor="end">DOC</text>
<line x1="516.3" x2="518.8" y1="285.6" y2="285.6" class="ytk"/>
<text x="515.9" y="309.13" class="lb" text-anchor="end">AN</text>
<line x1="516.3" x2="518.8" y1="304.63" y2="304.63" class="ytk"/>
<text x="515.9" y="328.16" class="lb" text-anchor="end">AP</text>
<line x1="516.3" x2="518.8" y1="323.66" y2="323.66" class="ytk"/>
<text x="515.9" y="347.19" class="lb" text-anchor="end">DOC/AN</text>
<line x1="516.3" x2="518.8" y1="342.69" y2="342.69" class="ytk"/>
<text x="515.9" y="366.22" class="lb" text-anchor="end">DOC/AP</text>
<line x1="516.3" x2="518.8" y1="361.72" y2="361.72" class="ytk"/>
<text x="515.9" y="385.25" class="lb" text-anchor="end">AN/AP</text>
<line x1="516.3" x2="518.8" y1="380.75" y2="380.75" class="ytk"/>
<text x="515.9" y="404.28" class="lb" text-anchor="end">MBC</text>
<line x1="516.3" x2="518.8" y1="399.78" y2="399.78" class="ytk"/>
<text x="515.9" y="423.31" class="lb" text-anchor="end">MBN</text>
<line x1="516.3" x2="518.8" y1="418.81" y2="418.81" class="ytk"/>
<text x="515.9" y="442.34" class="lb" text-anchor="end">MBP</text>
<line x1="516.3" x2="518.8" y1="437.84" y2="437.84" class="ytk"/>
<text x="515.9" y="461.37" class="lb" text-anchor="end">MBC/N</text>
<line x1="516.3" x2="518.8" y1="456.87" y2="456.87" class="ytk"/>
<text x="515.9" y="480.4" class="lb" text-anchor="end">MBC/P</text>
<line x1="516.3" x2="518.8" y1="475.9" y2="475.9" class="ytk"/>
<text x="527" y="290.9" class="nm">(124)</text>
<text x="527" y="309.93" class="nm">(228)</text>
<text x="527" y="329.26" class="nm">(243)</text>
<text x="527.6" y="347.99" class="nm">(99)</text>
<text x="527.6" y="367.52" class="nm">(86)</text>
<text x="526.2" y="387.05" class="nm">(177)</text>
<text x="527.3" y="406.38" class="nm">(181)</text>
<text x="526.2" y="426.01" class="nm">(128)</text>
<text x="526.2" y="445.74" class="nm">(140)</text>
<text x="526.2" y="464.47" class="nm">(122)</text>
<text x="526.2" y="483" class="nm">(116)</text>
<line x1="588" x2="624.5" y1="286" y2="286" stroke="#4ecdc4" stroke-width="1.9"/>
<line x1="588" x2="588" y1="282.1" y2="289.9" stroke="#4ecdc4" stroke-width="2.2"/>
<line x1="624.5" x2="624.5" y1="282.1" y2="289.9" stroke="#4ecdc4" stroke-width="2.2"/>
<circle cx="605.7" cy="286" r="6.15" fill="#fff" stroke="#4ecdc4" stroke-width="2.1"/>
<circle cx="609.6" cy="304.99" r="7" fill="#f2646d"/>
<circle cx="593.4" cy="323.98" r="7" fill="#f2646d"/>
<circle cx="598.2" cy="342.97" r="6.15" fill="#fff" stroke="#4ecdc4" stroke-width="2.1"/>
<circle cx="606.6" cy="361.96" r="7" fill="#f2646d"/>
<circle cx="607.8" cy="380.95" r="7" fill="#f2646d"/>
<line x1="596.1" x2="620.1" y1="399.94" y2="399.94" stroke="#4ecdc4" stroke-width="1.9"/>
<line x1="596.1" x2="596.1" y1="396.04" y2="403.84" stroke="#4ecdc4" stroke-width="2.2"/>
<line x1="620.1" x2="620.1" y1="396.04" y2="403.84" stroke="#4ecdc4" stroke-width="2.2"/>
<circle cx="607.3" cy="399.94" r="6.15" fill="#fff" stroke="#4ecdc4" stroke-width="2.1"/>
<line x1="597" x2="613.1" y1="418.93" y2="418.93" stroke="#4ecdc4" stroke-width="1.9"/>
<line x1="597" x2="597" y1="415.03" y2="422.83" stroke="#4ecdc4" stroke-width="2.2"/>
<line x1="613.1" x2="613.1" y1="415.03" y2="422.83" stroke="#4ecdc4" stroke-width="2.2"/>
<circle cx="605.2" cy="418.93" r="6.15" fill="#fff" stroke="#4ecdc4" stroke-width="2.1"/>
<circle cx="601.2" cy="437.92" r="6.15" fill="#fff" stroke="#4ecdc4" stroke-width="2.1"/>
<line x1="591.2" x2="606.9" y1="456.91" y2="456.91" stroke="#4ecdc4" stroke-width="1.9"/>
<line x1="591.2" x2="591.2" y1="453.01" y2="460.81" stroke="#4ecdc4" stroke-width="2.2"/>
<line x1="606.9" x2="606.9" y1="453.01" y2="460.81" stroke="#4ecdc4" stroke-width="2.2"/>
<circle cx="598.5" cy="456.91" r="6.15" fill="#fff" stroke="#4ecdc4" stroke-width="2.1"/>
<line x1="593.8" x2="607.5" y1="475.9" y2="475.9" stroke="#4ecdc4" stroke-width="1.9"/>
<line x1="593.8" x2="593.8" y1="472" y2="479.8" stroke="#4ecdc4" stroke-width="2.2"/>
<line x1="607.5" x2="607.5" y1="472" y2="479.8" stroke="#4ecdc4" stroke-width="2.2"/>
<circle cx="600.5" cy="475.9" r="6.15" fill="#fff" stroke="#4ecdc4" stroke-width="2.1"/>
<line x1="600.35" x2="600.35" y1="275.35" y2="486.25" class="dz"/>
<rect x="518.8" y="275.35" width="162.7" height="210.9" class="bx"/>
<line x1="525.95" x2="525.95" y1="486.25" y2="488.75" class="xtk"/>
<text x="525.95" y="502.3" class="tk" text-anchor="middle">-100</text>
<line x1="563.15" x2="563.15" y1="486.25" y2="488.75" class="xtk"/>
<text x="563.15" y="502.3" class="tk" text-anchor="middle">-50</text>
<line x1="600.35" x2="600.35" y1="486.25" y2="488.75" class="xtk"/>
<text x="600.35" y="502.3" class="tk" text-anchor="middle">0</text>
<line x1="637.55" x2="637.55" y1="486.25" y2="488.75" class="xtk"/>
<text x="637.55" y="502.3" class="tk" text-anchor="middle">50</text>
<line x1="674.75" x2="674.75" y1="486.25" y2="488.75" class="xtk"/>
<text x="674.75" y="502.3" class="tk" text-anchor="middle">100</text>
</svg>
</body></html>
